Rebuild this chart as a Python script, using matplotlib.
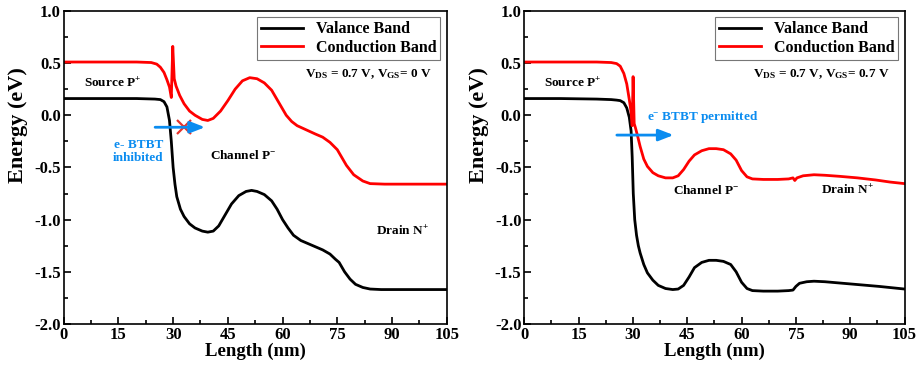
import matplotlib.pyplot as plt
from matplotlib.ticker import MultipleLocator

plt.rcParams['font.family'] = ['Liberation Serif', 'DejaVu Serif']
plt.rcParams['font.weight'] = 'bold'
plt.rcParams['mathtext.fontset'] = 'custom'
plt.rcParams['mathtext.rm'] = 'Liberation Serif:bold'
plt.rcParams['mathtext.it'] = 'Liberation Serif:bold'
plt.rcParams['mathtext.bf'] = 'Liberation Serif:bold'

# left panel: V_GS = 0 V
cb_left_x = [0, 10, 20, 24, 25.5, 26.5, 27.5, 28.3, 29.0, 29.5, 29.9, 30.3, 30.8, 31.8, 33, 34.5, 36,
             38, 39.5, 41, 43, 45, 47, 49, 51, 53, 55, 57, 59, 61, 62.5, 64, 66.5, 69, 71, 73, 75,
             77.5, 79.5, 82, 84, 88, 95, 105]
cb_left_y = [0.51, 0.51, 0.51, 0.505, 0.49, 0.46, 0.41, 0.34, 0.27, 0.17, 0.66, 0.35, 0.28, 0.19, 0.11,
             0.04, 0.0, -0.04, -0.05, -0.03, 0.04, 0.14, 0.25, 0.33, 0.36, 0.35, 0.31, 0.24, 0.12, 0.0,
             -0.06, -0.1, -0.14, -0.18, -0.21, -0.26, -0.33, -0.48, -0.57, -0.63, -0.655, -0.66, -0.66,
             -0.66]
vb_left_x = [0, 10, 20, 25, 26.5, 27.5, 28.3, 29, 29.5, 30, 30.5, 31, 32, 33, 34.5, 36, 38, 39.5, 41,
             42.5, 44, 46, 48, 50, 51.5, 53, 55, 57, 58.5, 60, 61.5, 63, 65, 67, 69, 71, 73, 74.5, 75.5,
             77, 78.5, 80, 82, 84, 87, 95, 105]
vb_left_y = [0.16, 0.16, 0.16, 0.155, 0.15, 0.13, 0.08, -0.05, -0.25, -0.5, -0.66, -0.78, -0.9, -0.97,
             -1.04, -1.08, -1.11, -1.12, -1.11, -1.06, -0.97, -0.85, -0.77, -0.73, -0.72, -0.73, -0.76,
             -0.82, -0.9, -1.0, -1.08, -1.15, -1.2, -1.23, -1.26, -1.29, -1.33, -1.38, -1.41, -1.5,
             -1.57, -1.62, -1.65, -1.665, -1.67, -1.67, -1.67]

# right panel: V_GS = 0.7 V
cb_right_x = [0, 10, 20, 24, 25.5, 26.5, 27.5, 28.3, 29, 29.5, 29.8, 30.05, 30.35, 30.7, 31.3, 32, 33,
              34, 35.5, 37, 39, 41, 42.5, 44, 45.5, 47, 49, 51, 53, 55, 57, 58.5, 60, 61.5, 63, 66, 70,
              73, 74.2, 74.7, 75.3, 77, 80, 83, 87, 92, 97, 101, 105]
cb_right_y = [0.51, 0.51, 0.51, 0.505, 0.495, 0.47, 0.4, 0.3, 0.15, 0.03, -0.1, 0.37, -0.08, -0.12,
              -0.2, -0.3, -0.42, -0.49, -0.55, -0.58, -0.6, -0.6, -0.58, -0.52, -0.44, -0.38, -0.34,
              -0.32, -0.32, -0.33, -0.37, -0.43, -0.53, -0.59, -0.61, -0.615, -0.615, -0.61, -0.6,
              -0.625, -0.6, -0.58, -0.57, -0.575, -0.585, -0.6, -0.62, -0.64, -0.655]
vb_right_x = [0, 10, 20, 24, 25.5, 26.5, 27.5, 28.3, 29, 29.5, 29.8, 30.1, 30.5, 31, 31.5, 32, 33, 34,
              35.5, 37, 39, 41, 42.5, 44, 45.5, 47, 49, 51, 53, 55, 57, 58.5, 60, 61.5, 63, 66, 70, 73,
              74.2, 75, 76, 78, 80, 83, 88, 93, 98, 105]
vb_right_y = [0.16, 0.16, 0.155, 0.15, 0.145, 0.14, 0.12, 0.07, -0.02, -0.15, -0.4, -0.75, -1.0, -1.15,
              -1.25, -1.32, -1.43, -1.51, -1.58, -1.63, -1.66, -1.67, -1.665, -1.63, -1.55, -1.46,
              -1.41, -1.39, -1.39, -1.4, -1.43, -1.5, -1.6, -1.66, -1.68, -1.685, -1.685, -1.68, -1.675,
              -1.64, -1.61, -1.595, -1.59, -1.595, -1.61, -1.625, -1.64, -1.665]

x_ticks = [0, 15, 30, 45, 60, 75, 90, 105]
y_ticks = [-2.0, -1.5, -1.0, -0.5, 0.0, 0.5, 1.0]

blue = '#0a8cf0'

fig = plt.figure(figsize=(9.23, 3.75), dpi=100)
ax1 = fig.add_axes([0.069, 0.136, 0.415, 0.835])
ax2 = fig.add_axes([0.568, 0.136, 0.412, 0.835])

for ax, cbx, cby, vbx, vby in [(ax1, cb_left_x, cb_left_y, vb_left_x, vb_left_y),
                               (ax2, cb_right_x, cb_right_y, vb_right_x, vb_right_y)]:
    ax.plot(vbx, vby, color='black', lw=2, label='Valance Band')
    ax.plot(cbx, cby, color='red', lw=2, label='Conduction Band')
    ax.set_xlim(0, 105)
    ax.set_ylim(-2.0, 1.0)
    ax.set_xticks(x_ticks)
    ax.set_xticklabels([str(v) for v in x_ticks], fontweight='bold')
    ax.set_yticks(y_ticks)
    ax.set_yticklabels(['%.1f' % v for v in y_ticks], fontweight='bold')
    ax.xaxis.set_minor_locator(MultipleLocator(7.5))
    ax.yaxis.set_minor_locator(MultipleLocator(0.25))
    ax.tick_params(which='both', direction='in', top=False, right=False, labelsize=12, width=1.2)
    ax.tick_params(which='major', length=5, pad=2)
    ax.tick_params(which='minor', length=3)
    for s in ax.spines.values():
        s.set_linewidth(1.2)
    ax.set_xlabel('Length (nm)', fontsize=13.5, fontweight='bold', labelpad=0)
    ax.set_ylabel('Energy (eV)', fontsize=16, fontweight='bold')
    ax.yaxis.set_label_coords(-0.093, 0.636)
    leg = ax.legend(loc='upper right', fontsize=11.5, frameon=True, fancybox=False,
                    edgecolor='#555555', handlelength=2.6, borderpad=0.25, labelspacing=0.15,
                    borderaxespad=0.4)
    leg.get_frame().set_linewidth(0.8)
    ax.text(5.5, 0.31, r'Source P$^{+}$', fontsize=9.5, fontweight='bold', va='center')

# left annotations
ax1.text(101, 0.39, r'V$_{\mathrm{DS}}$ = 0.7 V, V$_{\mathrm{GS}}$= 0 V', fontsize=9.5,
         fontweight='bold', ha='right', va='center')
ax1.annotate('', xy=(39.5, -0.115), xytext=(24.3, -0.115),
             arrowprops=dict(arrowstyle='-|>,head_length=0.9,head_width=0.35', color=blue, lw=2))
ax1.plot([32.9], [-0.115], marker='x', color='#e8322a', markersize=10, mew=1.6)
ax1.text(20.5, -0.35, 'e- BTBT\ninhibited', color=blue, fontsize=9.5, fontweight='bold',
         ha='center', va='center', linespacing=1.1)
ax1.text(40, -0.39, r'Channel P$^{-}$', fontsize=9.5, fontweight='bold', va='center')
ax1.text(85.5, -1.11, r'Drain N$^{+}$', fontsize=9.5, fontweight='bold', va='center')

# right annotations
ax2.text(101, 0.39, r'V$_{\mathrm{DS}}$ = 0.7 V, V$_{\mathrm{GS}}$= 0.7 V', fontsize=9.5,
         fontweight='bold', ha='right', va='center')
ax2.annotate('', xy=(42, -0.19), xytext=(24.8, -0.19),
             arrowprops=dict(arrowstyle='-|>,head_length=0.9,head_width=0.35', color=blue, lw=2))
ax2.text(34, -0.02, r'e$^{-}$ BTBT permitted', color=blue, fontsize=9.5, fontweight='bold',
         va='center')
ax2.text(41, -0.72, r'Channel P$^{-}$', fontsize=9.5, fontweight='bold', va='center')
ax2.text(82, -0.72, r'Drain N$^{+}$', fontsize=9.5, fontweight='bold', va='center')

fig.savefig('out.png', dpi=100)
